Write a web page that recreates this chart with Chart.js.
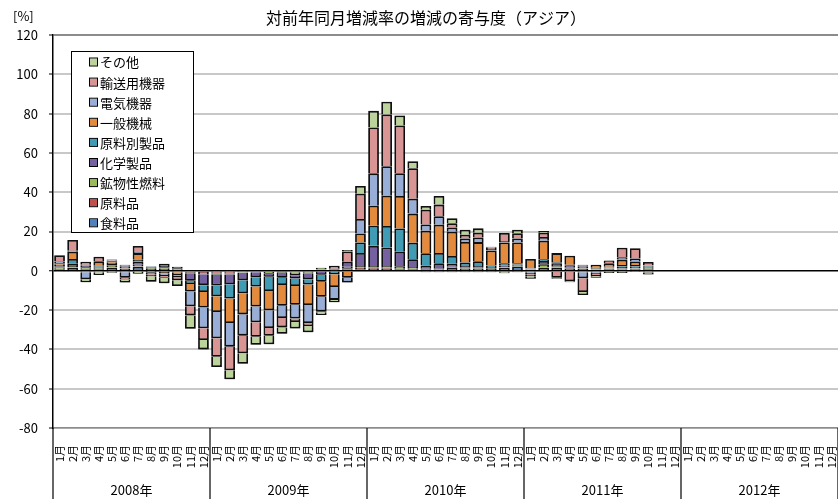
<!DOCTYPE html>
<html><head><meta charset="utf-8">
<script src="https://cdn.jsdelivr.net/npm/chart.js@4.4.1/dist/chart.umd.min.js"></script>
<style>html,body{margin:0;padding:0;background:#fff}</style>
</head><body>
<canvas id="c" width="838" height="499"></canvas>
<script>
const FONT = '"Noto Sans CJK JP", "Noto Sans", sans-serif';
const chartTitle = '対前年同月増減率の増減の寄与度（アジア）';
const unitLabel = '[%]';
const years = ['2008年','2009年','2010年','2011年','2012年'];
const months = ['1月','2月','3月','4月','5月','6月','7月','8月','9月','10月','11月','12月'];
const categories = [];
years.forEach(() => months.forEach(m => categories.push(m)));

const seriesNames = ['食料品','原料品','鉱物性燃料','化学製品','原料別製品','一般機械','電気機器','輸送用機器','その他'];
const seriesColors = ['#4F81BD','#C0504D','#9BBB59','#7560A0','#3F9CB4','#E38A3C','#98AED6','#D99594','#BCD49B'];

// Jan 2008 - Oct 2011
const food = [0.8,1.5,0.8,0.8,1.5,1.0,2.0,1.0,1.0,0.5,-0.5,-0.6,
  -0.8,-0.8,-0.4,-0.3,-0.3,-0.4,-0.5,-0.4,0.5,0.3,0.5,0.8,
  1.0,1.0,0.8,0.8,0.8,0.6,1.5,1.2,1.2,1.0,1.5,2.2,
  0.5,1.5,1.5,1.2,1.0,0.6,0.8,0.7,0.8,0.8];
const rawMaterials = [0.3,0.3,0.3,0.2,0.3,0.3,0.3,-0.2,-0.3,-0.3,-0.5,-0.5,
  -0.6,-0.6,-0.3,-0.2,-0.2,-0.2,-0.3,-0.3,0.3,-0.3,0.8,0.7,
  0.7,0.5,0.3,0.3,-0.8,-0.8,-0.8,-0.8,-0.8,-0.8,-0.8,-0.8,
  0.3,0.3,0.3,0.2,0.3,0.2,0.2,0.2,0.2,0.3];
const fuels = [0.6,0.6,0.7,0.5,0.8,0.8,0.8,0.6,0.8,0.8,-0.5,-0.7,
  -0.6,-0.5,-0.3,-0.3,-1.0,-0.4,-1.5,-0.6,0.8,0.3,0.8,1.0,
  0.8,1.0,1.2,0.8,0.3,0.4,0.5,0.4,0.4,0.4,0.3,0.4,
  0.2,1.5,0.5,0.4,0.8,0.5,0.3,0.3,0.3,0.5];
const chemicals = [0.6,1.2,0.8,0.5,0.8,0.5,1.5,0.4,0.6,0.7,-3.6,-5.5,
  -5.5,-5.0,-3.8,-2.5,-1.5,-2.6,-1.6,-3.0,-2.0,0.5,2.5,6.6,
  10.2,9.4,7.4,4.0,1.6,2.9,1.6,0.8,0.8,0.5,0.8,0.6,
  0.3,1.7,1.5,1.0,0.5,0.3,0.4,0.8,0.8,0.5];
const manufactured = [0.8,2.4,-0.8,0.6,0.7,-0.8,1.0,0.3,1.2,-0.5,-1.6,-3.5,
  -5.5,-7.2,-6.6,-4.7,-7.3,-3.6,-3.8,-2.7,-3.6,-1.5,-0.5,5.3,
  10.2,10.9,11.8,8.4,6.2,5.2,3.9,1.8,2.4,0.8,1.2,0.6,
  -0.8,0.9,0.6,0.3,0.5,-0.8,0.4,1.0,0.8,0.5];
const machinery = [0.8,3.7,0.5,2.2,0.8,0.5,3.4,-0.8,-1.0,-1.3,-3.8,-7.9,
  -8.0,-12.5,-10.8,-10.2,-9.8,-10.6,-9.6,-10.4,-7.6,-6.5,-3.0,4.6,
  10.2,15.4,16.6,14.8,11.5,14.3,12.4,10.5,9.8,7.6,10.6,10.6,
  4.7,9.4,4.6,4.6,-0.8,1.5,1.8,2.7,1.8,-0.9];
const electrical = [0.8,0.5,-3.5,-0.8,0.4,-2.8,0.6,-0.8,-1.4,-1.0,-7.6,-10.5,
  -13.3,-12.0,-10.8,-8.0,-9.0,-6.2,-7.0,-9.2,-7.6,-6.5,-2.5,7.4,
  16.5,15.0,11.6,7.6,3.2,4.4,2.1,1.8,2.4,0.8,0.8,2.1,
  -1.0,1.9,-0.5,-0.5,-3.0,-0.8,-0.5,1.2,1.6,0.2];
const transport = [3.2,5.5,1.5,2.4,0.5,-0.8,3.0,-1.0,-0.8,-1.7,-4.6,-6.0,
  -9.5,-12.0,-9.0,-7.4,-4.0,-4.8,-1.8,-1.5,-0.3,1.5,5.2,12.8,
  23.3,26.4,24.3,15.5,7.5,5.9,2.2,1.9,2.4,0.6,4.0,2.6,
  -1.0,2.2,-3.1,-4.8,-7.0,-1.2,1.4,4.8,5.2,1.7];
const others = [-0.5,-0.5,-1.5,-1.4,-1.0,-1.6,-1.5,-2.8,-2.8,-2.9,-6.8,-4.8,
  -5.2,-4.6,-5.3,-4.0,-4.3,-3.2,-3.3,-3.2,-1.4,-1.2,0.8,4.0,
  8.5,6.4,5.0,3.6,1.9,4.4,2.6,2.5,2.2,0.5,-0.5,1.8,
  -1.2,0.8,-0.4,-0.5,-1.5,-0.8,-0.6,-1.1,-0.6,-1.0];

const seriesData = [food, rawMaterials, fuels, chemicals, manufactured, machinery, electrical, transport, others];

const datasets = seriesNames.map((name, i) => ({
  label: name,
  data: seriesData[i],
  backgroundColor: seriesColors[i],
  borderColor: '#111',
  borderWidth: 1.8,
  barPercentage: 0.82,
  categoryPercentage: 1.0,
  stack: 's'
}));

const decorPlugin = {
  id: 'decor',
  beforeDatasetsDraw(chart) {
    const c = chart.ctx;
    c.save();
    c.shadowColor = 'rgba(0,0,0,0.4)';
    c.shadowBlur = 3;
    c.shadowOffsetX = 1;
    c.shadowOffsetY = 1;
  },
  afterDatasetsDraw(chart) {
    chart.ctx.restore();
  },
  afterDraw(chart) {
    const c = chart.ctx;
    const xs = chart.scales.x;
    const area = chart.chartArea;
    const H = chart.height;
    c.save();
    c.fillStyle = '#000';
    // title
    c.font = '16px ' + FONT;
    c.textAlign = 'center';
    c.textBaseline = 'middle';
    c.fillText(chartTitle, 426, 18);
    // unit label
    c.font = '13px ' + FONT;
    c.textAlign = 'left';
    c.fillText(unitLabel, 13, 16);
    // year dividers and labels
    const n = categories.length;
    const w = (xs.right - xs.left) / n;
    c.strokeStyle = '#000';
    c.lineWidth = 1.2;
    c.beginPath();
    c.moveTo(area.left, area.bottom);
    c.lineTo(area.left, H);
    c.stroke();
    c.font = '13px ' + FONT;
    c.textAlign = 'center';
    years.forEach((y, k) => {
      const x0 = xs.getPixelForTick(k * 12) - w / 2;
      const x1 = xs.getPixelForTick(k * 12 + 11) + w / 2;
      c.beginPath();
      c.moveTo(x1, area.bottom);
      c.lineTo(x1, H);
      c.stroke();
      c.fillText(y, (x0 + x1) / 2, 490);
    });
    // legend
    const lx = 71, ly = 51, lw = 122, lh = 181;
    c.fillStyle = '#fff';
    c.fillRect(lx, ly, lw, lh);
    c.strokeStyle = '#000';
    c.lineWidth = 1;
    c.strokeRect(lx + 0.5, ly + 0.5, lw, lh);
    const items = chart.data.datasets.slice().reverse();
    items.forEach((ds, i) => {
      const cy = 62 + i * 20.1;
      c.fillStyle = ds.backgroundColor;
      c.fillRect(90, cy - 3.5, 7, 7);
      c.strokeStyle = '#000';
      c.lineWidth = 1;
      c.strokeRect(89.5, cy - 4, 8, 8);
      c.fillStyle = '#000';
      c.textAlign = 'left';
      c.textBaseline = 'middle';
      c.font = '13px ' + FONT;
      c.fillText(ds.label, 100, cy + 0.5);
    });
    c.restore();
  }
};

new Chart(document.getElementById('c').getContext('2d'), {
  type: 'bar',
  data: { labels: categories, datasets },
  options: {
    responsive: false,
    animation: false,
    devicePixelRatio: 1,
    layout: { padding: { left: 0, right: 0, top: 35, bottom: 0 } },
    plugins: {
      legend: { display: false },
      tooltip: { enabled: false },
      title: { display: false }
    },
    scales: {
      x: {
        stacked: true,
        grid: { display: false },
        border: { display: true, color: '#8c8c8c', width: 1.5 },
        ticks: {
          autoSkip: false, maxRotation: 90, minRotation: 90, padding: 9,
          color: '#000', font: { size: 11, family: FONT }
        },
        afterFit(s) { s.height = 71; s.paddingLeft = 0; s.paddingRight = 0; }
      },
      y: {
        stacked: true,
        min: -80, max: 120,
        ticks: { stepSize: 20, padding: 11, color: '#000', font: { size: 13, family: FONT } },
        grid: {
          color: (ctx) => ctx.tick && ctx.tick.value === 0 ? '#000' : (ctx.tick && ctx.tick.value === 120 ? '#8c8c8c' : '#C8C8C8'),
          lineWidth: (ctx) => ctx.tick && ctx.tick.value === 0 ? 1.5 : 2,
          tickColor: '#000', tickLength: 4, tickWidth: 1
        },
        border: { color: '#000', width: 1.5 },
        afterFit(s) { s.width = 53; s.paddingTop = 0; s.paddingBottom = 0; }
      }
    }
  },
  plugins: [decorPlugin]
});
</script>
</body></html>
